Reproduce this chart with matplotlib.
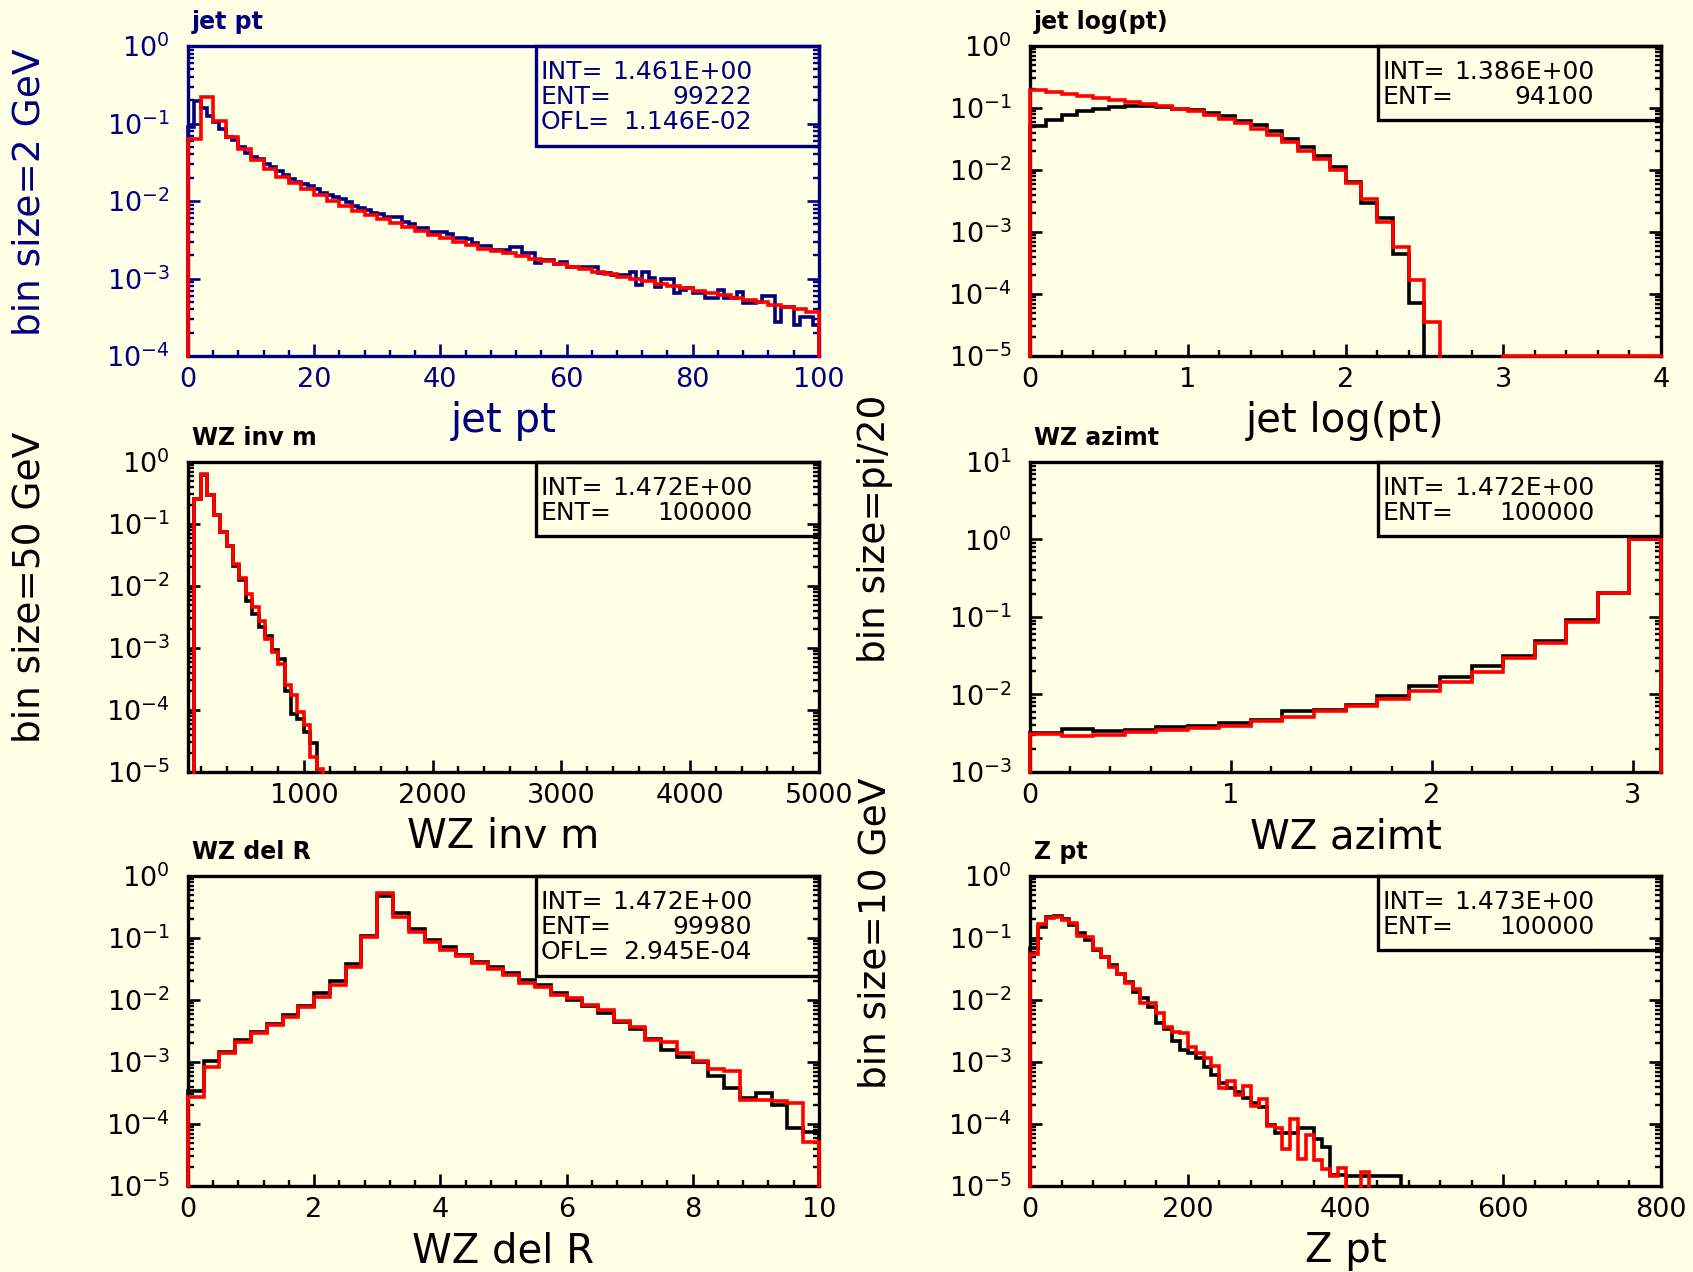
import numpy as np
import matplotlib
matplotlib.use("Agg")
import matplotlib.pyplot as plt
from matplotlib.ticker import LogLocator, NullFormatter, MultipleLocator
from matplotlib.patches import Rectangle

plt.rcParams['font.family'] = ['DejaVu Sans']
plt.rcParams['mathtext.fontset'] = 'dejavusans'

BG = '#FFFFE6'
NAVY = '#00007F'
RED = '#FF0000'

# ---------------- data ----------------
# jet pt : blue 1 GeV bins (0-100), red 2 GeV bins (0-100)
JETPT_BLUE = [0.0910, 0.195, 0.157, 0.125, 0.1035, 0.0841, 0.0676, 0.0612, 0.0502, 0.0420,
              0.0373, 0.0345, 0.0300, 0.0272, 0.0246, 0.0216, 0.0190, 0.0176, 0.0166, 0.0156,
              0.0144, 0.0128, 0.0118, 0.0114, 0.0105, 0.00971, 0.00862, 0.00804, 0.00766, 0.00707,
              0.00680, 0.00628, 0.00628, 0.00628, 0.00541, 0.00505, 0.00444, 0.00444, 0.00402, 0.00402,
              0.00402, 0.00375, 0.00330, 0.00330, 0.00320, 0.00290, 0.00263, 0.00263, 0.00233, 0.00233,
              0.00233, 0.00253, 0.00253, 0.00211, 0.00211, 0.00160, 0.00173, 0.00173, 0.00152, 0.00165,
              0.00142, 0.00142, 0.00142, 0.00142, 0.00142, 0.00117, 0.00117, 0.00111, 0.00111, 0.00111,
              0.00123, 0.000824, 0.00123, 0.00101, 0.000784, 0.000976, 0.000976, 0.000644, 0.000711, 0.000746,
              0.000644, 0.000644, 0.000555, 0.000555, 0.000711, 0.000555, 0.000555, 0.000676, 0.000478, 0.000478,
              0.000502, 0.000594, 0.000594, 0.000277, 0.000433, 0.000433, 0.000251, 0.000322, 0.000322, 0.000251]
JETPT_RED = [0.0625, 0.222, 0.109, 0.0676, 0.0464, 0.0338, 0.0256, 0.0206, 0.0169, 0.0142,
             0.0118, 0.0101, 0.0086, 0.0075, 0.0067, 0.0058, 0.0052, 0.0046, 0.0041, 0.0037,
             0.0033, 0.0030, 0.0027, 0.0024, 0.0023, 0.00211, 0.00195, 0.00180, 0.00167, 0.00154,
             0.00142, 0.00131, 0.00121, 0.00113, 0.00106, 0.000986, 0.000919, 0.000858, 0.000800, 0.000746,
             0.000697, 0.000650, 0.000607, 0.000566, 0.000528, 0.000492, 0.000459, 0.000429, 0.000400, 0.000373]

# jet log(pt): 0.1 bins (0-4)
JETLOG_BLACK = [0.0513, 0.0640, 0.0762, 0.0883, 0.0975, 0.105, 0.109, 0.108, 0.1025, 0.0975,
                0.0929, 0.0841, 0.0743, 0.0625, 0.0525, 0.0431, 0.0320, 0.0238, 0.0168, 0.0110,
                0.00640, 0.00297, 0.00166, 0.000442, 7.07e-5, 0, 0, 0, 0, 0,
                0, 0, 0, 0, 0, 0, 0, 0, 0, 0]
JETLOG_RED = [0.195, 0.181, 0.168, 0.156, 0.145, 0.135, 0.125, 0.116, 0.106, 0.0975,
              0.0883, 0.0780, 0.0673, 0.0566, 0.0464, 0.0372, 0.0283, 0.0205, 0.0152, 0.0100,
              0.00610, 0.00337, 0.00147, 0.000580, 0.000168, 3.58e-5, 0, 0, 0, 0,
              1e-5, 1e-5, 1e-5, 1e-5, 1e-5, 1e-5, 1e-5, 1e-5, 1e-5, 1e-5]

# WZ inv m: 50 GeV bins starting at 100 (remaining bins up to 5000 empty)
MINV_BLACK = [0, 0.251, 0.61, 0.291, 0.139, 0.0747, 0.0434, 0.0212, 0.0126, 0.00573,
              0.00353, 0.00216, 0.00158, 0.000931, 0.000667, 0.000206, 8.69e-5, 7.22e-5, 4.40e-5, 2.97e-5]
MINV_RED = [0, 0.257, 0.634, 0.294, 0.139, 0.0729, 0.0434, 0.0225, 0.01325, 0.00732,
            0.00453, 0.00273, 0.00140, 0.000854, 0.000554, 0.000255, 0.000176, 9.24e-5, 5.78e-5, 1.74e-5,
            1.10e-5]

# WZ azimt: pi/20 bins (0-pi)
AZ_BLACK = [0.00317, 0.00357, 0.00336, 0.00343, 0.00378, 0.00394, 0.00426, 0.00470, 0.00613, 0.00632,
            0.00733, 0.00957, 0.0130, 0.0166, 0.0232, 0.0318, 0.0497, 0.0925, 0.203, 1.01]
AZ_RED = [0.00305, 0.00293, 0.00302, 0.00330, 0.00343, 0.00364, 0.00394, 0.00457, 0.00519, 0.00613,
          0.00719, 0.00867, 0.0112, 0.0146, 0.0196, 0.0297, 0.0463, 0.0853, 0.203, 1.0]

# WZ del R: 0.25 bins (0-10)
DR_BLACK = [0.000345, 0.00105, 0.00147, 0.00226, 0.00301, 0.00410, 0.00580, 0.00800, 0.0128, 0.0205,
            0.0381, 0.108, 0.476, 0.250, 0.138, 0.0929, 0.0707, 0.0532, 0.0415, 0.0337,
            0.0269, 0.0210, 0.0175, 0.0128, 0.0100, 0.0080, 0.00610, 0.00447, 0.00337, 0.00232,
            0.00156, 0.00122, 0.00101, 0.000594, 0.000376, 0.000259, 0.000313, 0.000202, 8.51e-5, 7.52e-5]
DR_RED = [0.000276, 0.00082, 0.00138, 0.00213, 0.00290, 0.00395, 0.00538, 0.00780, 0.0110, 0.0175,
          0.0345, 0.105, 0.525, 0.215, 0.126, 0.0873, 0.0640, 0.0513, 0.0390, 0.0312,
          0.0253, 0.0190, 0.0160, 0.0120, 0.0106, 0.00830, 0.00690, 0.00464, 0.00372, 0.00226,
          0.00213, 0.00138, 0.00105, 0.000762, 0.000725, 0.000244, 0.000244, 0.000238, 0.000221, 5.19e-5]

# Z pt: 10 GeV bins (0-800), remaining bins empty
ZPT_BLACK = [0.068, 0.152, 0.216, 0.226, 0.205, 0.162, 0.122, 0.0929, 0.0640, 0.0488,
             0.0367, 0.0262, 0.0198, 0.0136, 0.0106, 0.00780, 0.00431, 0.00337, 0.00221, 0.00156,
             0.00142, 0.00115, 0.000841, 0.000617, 0.000453, 0.000376, 0.000333, 0.000259, 0.000215, 0.000186,
             9.64e-5, 7.07e-5, 7.07e-5, 7.07e-5, 8.51e-5, 8.51e-5, 5.66e-5, 4.31e-5, 1.50e-5, 1.50e-5,
             1.45e-5, 1.45e-5, 1.45e-5, 1.45e-5, 1.45e-5, 1.45e-5, 1.45e-5]
ZPT_RED = [0.0552, 0.168, 0.208, 0.216, 0.195, 0.172, 0.108, 0.105, 0.0665, 0.0488,
           0.0345, 0.0262, 0.0190, 0.0149, 0.00906, 0.00906, 0.00610, 0.00372, 0.00308, 0.00290,
           0.00177, 0.00138, 0.00115, 0.000862, 0.000376, 0.000500, 0.000294, 0.000410, 0.000195, 0.000250,
           9.29e-5, 8.51e-5, 3.90e-5, 1.19e-4, 2.69e-5, 6.65e-5, 2.63e-5, 1.86e-5, 1.45e-5, 1.93e-5,
           0, 0, 1.70e-5]

TITLES = ["jet pt", "jet log(pt)", "WZ inv m", "WZ azimt", "WZ del R", "Z pt"]
STATS = [
    [("INT=", "1.461E+00"), ("ENT=", "99222"), ("OFL=", "1.146E-02")],
    [("INT=", "1.386E+00"), ("ENT=", "94100")],
    [("INT=", "1.472E+00"), ("ENT=", "100000")],
    [("INT=", "1.472E+00"), ("ENT=", "100000")],
    [("INT=", "1.472E+00"), ("ENT=", "99980"), ("OFL=", "2.945E-04")],
    [("INT=", "1.473E+00"), ("ENT=", "100000")],
]
YLABELS = [("bin size=2 GeV", 0.0177, 0.849, NAVY),
           ("bin size=50 GeV", 0.0177, 0.538, 'black'),
           ("bin size=pi/20", 0.517, 0.584, 'black'),
           ("bin size=10 GeV", 0.517, 0.266, 'black')]

# ---------------- drawing ----------------
def hist_xy(lo, width, vals, nbins, ymin):
    vals = list(vals) + [0] * (nbins - len(vals))
    edges = lo + width * np.arange(nbins + 1)
    xs, ys = [edges[0]], [ymin]
    broken = False
    for i, v in enumerate(vals):
        if v > 0:
            y = max(v, ymin)
            if broken:
                xs.append(edges[i]); ys.append(ymin); broken = False
            xs += [edges[i], edges[i + 1]]; ys += [y, y]
        else:
            if not broken:
                xs += [edges[i], np.nan]; ys += [ymin, np.nan]; broken = True
    if not broken:
        xs.append(edges[-1]); ys.append(ymin)
    return xs, ys

fig = plt.figure(figsize=(16.93, 12.72), dpi=100, facecolor=BG)
COLX = [0.1110, 0.6084]
ROWY = [0.7201, 0.3931, 0.0676]
W, H = 0.3727, 0.2437

panels = [
    dict(xlim=(0, 100), ylim=(1e-4, 1), xmaj=20, xmin=4, color=NAVY,
         h=[(0, 1, JETPT_BLUE, 100, NAVY), (0, 2, JETPT_RED, 50, RED)]),
    dict(xlim=(0, 4), ylim=(1e-5, 1), xmaj=1, xmin=0.2, color='black',
         h=[(0, 0.1, JETLOG_BLACK, 40, 'black'), (0, 0.1, JETLOG_RED, 40, RED)]),
    dict(xlim=(100, 5000), ylim=(1e-5, 1), xmaj=1000, xmin=200, color='black',
         h=[(100, 50, MINV_BLACK, 98, 'black'), (100, 50, MINV_RED, 98, RED)]),
    dict(xlim=(0, np.pi), ylim=(1e-3, 10), xmaj=1, xmin=0.2, color='black',
         h=[(0, np.pi / 20, AZ_BLACK, 20, 'black'), (0, np.pi / 20, AZ_RED, 20, RED)]),
    dict(xlim=(0, 10), ylim=(1e-5, 1), xmaj=2, xmin=0.4, color='black',
         h=[(0, 0.25, DR_BLACK, 40, 'black'), (0, 0.25, DR_RED, 40, RED)]),
    dict(xlim=(0, 800), ylim=(1e-5, 1), xmaj=200, xmin=40, color='black',
         h=[(0, 10, ZPT_BLACK, 80, 'black'), (0, 10, ZPT_RED, 80, RED)]),
]

for k, p in enumerate(panels):
    r, c = divmod(k, 2)
    ax = fig.add_axes([COLX[c], ROWY[r], W, H])
    col = p['color']
    ax.set_facecolor(BG)
    ax.set_yscale('log')
    ax.set_xlim(*p['xlim'])
    ax.set_ylim(*p['ylim'])
    for sp in ax.spines.values():
        sp.set_color(col)
        sp.set_linewidth(2.4)
    ax.xaxis.set_major_locator(MultipleLocator(p['xmaj']))
    ax.xaxis.set_minor_locator(MultipleLocator(p['xmin']))
    ax.yaxis.set_major_locator(LogLocator(base=10, numticks=20))
    ax.yaxis.set_minor_locator(LogLocator(base=10, subs=np.arange(2, 10), numticks=20))
    ax.yaxis.set_minor_formatter(NullFormatter())
    ax.tick_params(which='both', direction='in', top=False, right=True, left=True, bottom=True,
                   color=col, labelcolor=col)
    ax.tick_params(which='major', length=8.5, width=1.9, labelsize=19.5)
    ax.tick_params(which='minor', length=4, width=1.7)
    ax.tick_params(axis='y', which='major', pad=13)
    ax.tick_params(axis='x', which='major', pad=8)

    for lo, wd, vals, nb, lc in p['h']:
        xs, ys = hist_xy(lo, wd, vals, nb, p['ylim'][0])
        ax.plot(xs, ys, color=lc, lw=2.6, clip_on=False, zorder=3, solid_joinstyle='miter')

    ax.text(0.006, 1 + 24 / 310, TITLES[k], transform=ax.transAxes, fontsize=17,
            fontweight='bold', color=col, ha='left', va='center')
    ax.text(0.5, -0.21, TITLES[k], transform=ax.transAxes, fontsize=29,
            color=col, ha='center', va='center')

    stats = STATS[k]
    bx = 0.551
    by = 0.677 if len(stats) == 3 else 0.760
    ax.add_patch(Rectangle((bx, by), 1 - bx, 1 - by, transform=ax.transAxes, fill=False,
                           lw=2.4, ec=col, clip_on=False, zorder=4))
    for j, (lab, val) in enumerate(stats):
        yy = 1 - (25.7 + 25 * j) / 310
        ax.text(bx + 5 / 630, yy, lab, transform=ax.transAxes, fontsize=18, color=col,
                ha='left', va='center')
        ax.text(bx + 0.343, yy, val, transform=ax.transAxes, fontsize=18, color=col,
                ha='right', va='center')

for txt, x, y, col in YLABELS:
    fig.text(x, y, txt, rotation=90, fontsize=27, color=col, ha='center', va='center')

fig.savefig('out.png', dpi=100, facecolor=BG)
